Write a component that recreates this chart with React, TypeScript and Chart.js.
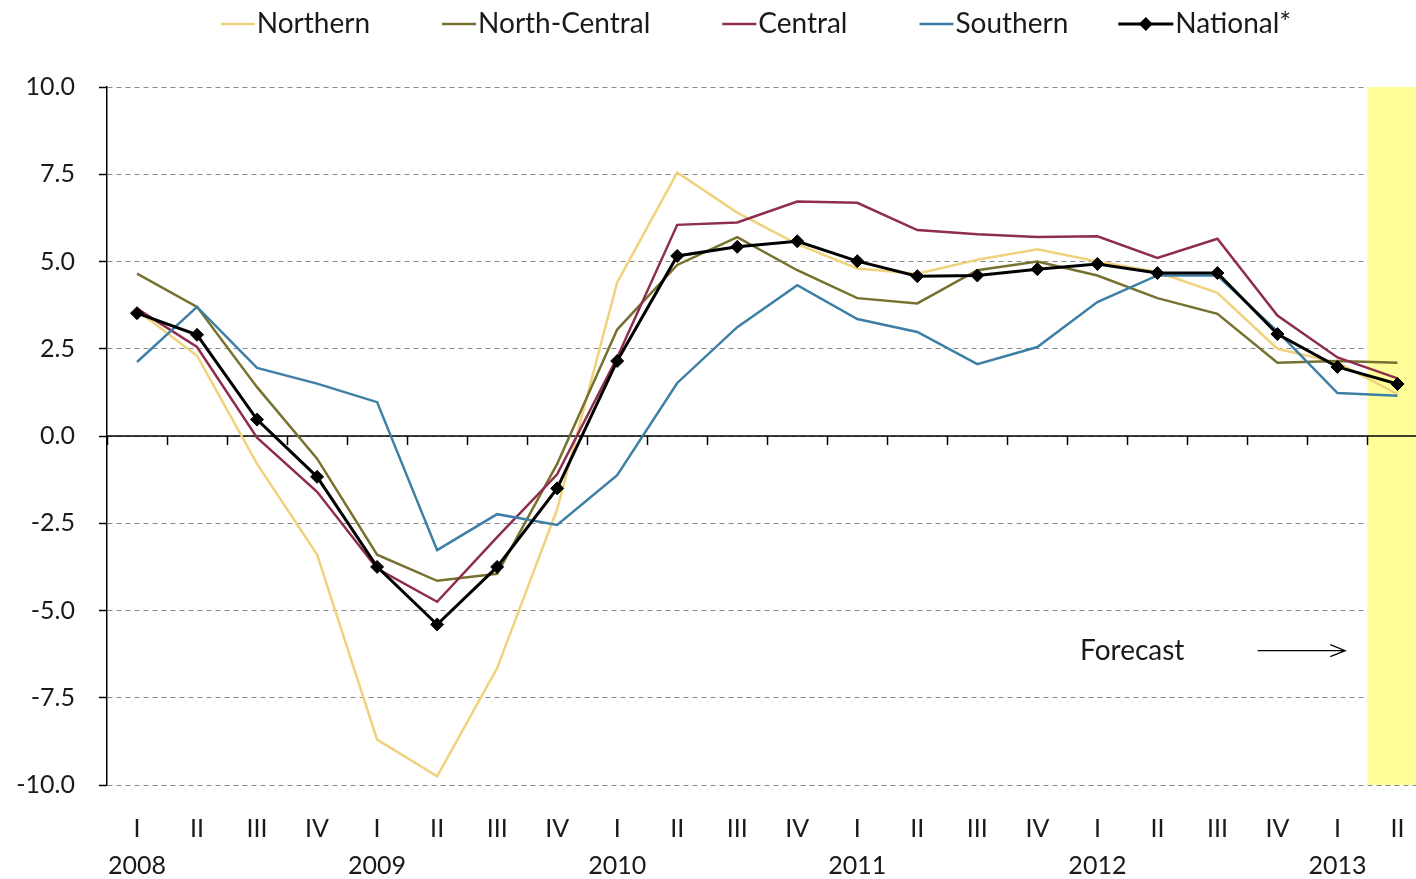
import { useEffect, useRef } from "react";
import { Chart, registerables } from "chart.js";

Chart.register(...registerables);

const quarters = ["I", "II", "III", "IV", "I", "II", "III", "IV", "I", "II", "III", "IV", "I", "II", "III", "IV", "I", "II", "III", "IV", "I", "II"];
const years = ["2008", "", "", "", "2009", "", "", "", "2010", "", "", "", "2011", "", "", "", "2012", "", "", "", "2013", ""];

const northern = [3.6, 2.3, -0.8, -3.4, -8.7, -9.75, -6.65, -2.1, 4.4, 7.55, 6.4, 5.5, 4.8, 4.65, 5.05, 5.35, 5.0, 4.7, 4.1, 2.5, 2.1, 1.2];
const northCentral = [4.65, 3.7, 1.4, -0.65, -3.4, -4.15, -3.95, -0.8, 3.05, 4.9, 5.7, 4.75, 3.95, 3.8, 4.75, 5.0, 4.6, 3.95, 3.5, 2.1, 2.15, 2.1];
const central = [3.65, 2.55, -0.05, -1.6, -3.8, -4.75, -2.9, -1.1, 2.25, 6.05, 6.12, 6.72, 6.68, 5.9, 5.78, 5.7, 5.72, 5.1, 5.65, 3.45, 2.25, 1.65];
const southern = [2.12, 3.7, 1.95, 1.5, 0.97, -3.27, -2.24, -2.55, -1.12, 1.52, 3.12, 4.32, 3.35, 2.98, 2.06, 2.55, 3.84, 4.6, 4.6, 3.0, 1.23, 1.15];
const national = [3.52, 2.9, 0.47, -1.17, -3.75, -5.4, -3.75, -1.5, 2.15, 5.16, 5.42, 5.58, 5.01, 4.58, 4.6, 4.78, 4.93, 4.67, 4.67, 2.92, 1.98, 1.49];

const seriesNames = ["Northern", "North-Central", "Central", "Southern", "National*"];
const seriesColors = ["#F0D27C", "#77712F", "#8E2D4E", "#3E7FA6", "#000000"];

const forecastStartIndex = 20.5; // forecast shading begins between 2013 I and 2013 II
const forecastLabel = "Forecast";

const FONT = "Lato, 'Open Sans', sans-serif";
const TEXT = "#1a1a1a";

const categories = quarters.map((q, i) => [q, years[i]]);

function catPx(scale: any, v: number) {
  const i = Math.floor(v);
  const a = scale.getPixelForValue(i);
  const b = scale.getPixelForValue(i + 1);
  return a + (b - a) * (v - i);
}

const decorPlugin = {
  id: "decor",
  beforeDatasetsDraw(chart: any) {
    const { ctx, chartArea, scales } = chart;
    const x = scales.x;
    const y = scales.y;
    ctx.save();
    const fx = catPx(x, forecastStartIndex);
    ctx.fillStyle = "#FFFF99";
    ctx.fillRect(fx, chartArea.top, chartArea.right - fx, chartArea.bottom - chartArea.top);
    const y0 = y.getPixelForValue(0);
    ctx.strokeStyle = "#000";
    ctx.lineWidth = 1.5;
    ctx.beginPath();
    ctx.moveTo(chartArea.left, y0);
    ctx.lineTo(chartArea.right, y0);
    ctx.stroke();
    for (let i = 0; i <= quarters.length; i++) {
      const px = Math.round(catPx(x, i - 0.5)) + 0.5;
      ctx.beginPath();
      ctx.moveTo(px, y0);
      ctx.lineTo(px, y0 + 9);
      ctx.stroke();
    }
    ctx.restore();
  },
  afterDatasetsDraw(chart: any) {
    const { ctx, scales } = chart;
    const x = scales.x;
    const y = scales.y;
    ctx.save();
    const fy = y.getPixelForValue(-6.15);
    ctx.font = `28px ${FONT}`;
    ctx.fillStyle = TEXT;
    ctx.textAlign = "center";
    ctx.textBaseline = "middle";
    ctx.fillText(forecastLabel, catPx(x, 16.58), fy);
    const ax1 = catPx(x, 18.67);
    const ax2 = catPx(x, 20.13);
    ctx.strokeStyle = "#000";
    ctx.lineWidth = 1.2;
    ctx.beginPath();
    ctx.moveTo(ax1, fy);
    ctx.lineTo(ax2, fy);
    ctx.moveTo(ax2 - 15, fy - 6);
    ctx.lineTo(ax2, fy);
    ctx.lineTo(ax2 - 15, fy + 6);
    ctx.stroke();
    ctx.restore();
  },
  afterDraw(chart: any) {
    const { ctx } = chart;
    ctx.save();
    ctx.font = `28px ${FONT}`;
    ctx.textBaseline = "middle";
    ctx.textAlign = "left";
    const items = seriesNames.map((name, i) => ({
      name,
      color: seriesColors[i],
      lineLen: i === 4 ? 55 : 34,
      gapBefore: i === 0 ? 0 : i === 4 ? 50 : 72,
      w: ctx.measureText(name).width,
    }));
    let total = 0;
    items.forEach((it) => (total += it.gapBefore + it.lineLen + 2 + it.w));
    let cx = 756 - total / 2;
    const ly = 24;
    items.forEach((it, i) => {
      cx += it.gapBefore;
      ctx.strokeStyle = it.color;
      ctx.lineWidth = i === 4 ? 3 : 2.5;
      ctx.beginPath();
      ctx.moveTo(cx, ly);
      ctx.lineTo(cx + it.lineLen, ly);
      ctx.stroke();
      if (i === 4) {
        const mx = cx + it.lineLen / 2;
        ctx.fillStyle = "#000";
        ctx.beginPath();
        ctx.moveTo(mx, ly - 7);
        ctx.lineTo(mx + 7, ly);
        ctx.lineTo(mx, ly + 7);
        ctx.lineTo(mx - 7, ly);
        ctx.closePath();
        ctx.fill();
      }
      cx += it.lineLen + 2;
      ctx.fillStyle = TEXT;
      ctx.fillText(it.name, cx, ly);
      cx += it.w;
    });
    ctx.restore();
  },
};

export default function App() {
  const ref = useRef<HTMLCanvasElement | null>(null);
  useEffect(() => {
    if (!ref.current) return;
    const regional = [northern, northCentral, central, southern];
    const datasets: any[] = regional.map((d, i) => ({
      label: seriesNames[i],
      data: d,
      borderColor: seriesColors[i],
      backgroundColor: seriesColors[i],
      borderWidth: 2.5,
      pointRadius: 0,
      tension: 0,
      order: 1 + (3 - i),
    }));
    datasets.push({
      label: seriesNames[4],
      data: national,
      borderColor: "#000",
      backgroundColor: "#000",
      borderWidth: 3,
      pointStyle: "rectRot",
      pointRadius: 6.5,
      pointBorderWidth: 1,
      tension: 0,
      order: 0,
    });
    const chart = new Chart(ref.current, {
      type: "line",
      data: { labels: categories, datasets },
      plugins: [decorPlugin],
      options: {
        animation: false,
        responsive: false,
        maintainAspectRatio: false,
        layout: { padding: { top: 87, left: 0, right: 3, bottom: 0 } },
        plugins: { legend: { display: false }, tooltip: { enabled: false } },
        scales: {
          x: {
            type: "category",
            offset: true,
            grid: { display: false, drawTicks: false, offset: true },
            border: { display: false },
            ticks: {
              autoSkip: false,
              maxRotation: 0,
              padding: 25,
              color: TEXT,
              font: { family: FONT, size: 25, lineHeight: 1.48 },
            },
            afterFit: (s: any) => {
              s.height = 94;
            },
          },
          y: {
            min: -10,
            max: 10,
            ticks: {
              stepSize: 2.5,
              padding: 24,
              color: TEXT,
              font: { family: FONT, size: 25 },
              callback: (v: any) => Number(v).toFixed(1),
            },
            grid: {
              color: "#8a8a8a",
              lineWidth: 1,
              tickColor: "#000",
              tickLength: 8,
              tickWidth: 1.5,
              tickBorderDash: [],
            },
            border: { display: true, color: "#000", width: 1.5, dash: [5, 4] },
            afterFit: (s: any) => {
              s.width = 107;
            },
          },
        },
      },
    });
    return () => chart.destroy();
  }, []);
  return (
    <div style={{ position: "fixed", left: 0, top: 0, width: 1416, height: 879, overflow: "hidden", background: "#fff" }}>
      <canvas ref={ref} width={1435} height={879} style={{ display: "block" }} />
    </div>
  );
}
